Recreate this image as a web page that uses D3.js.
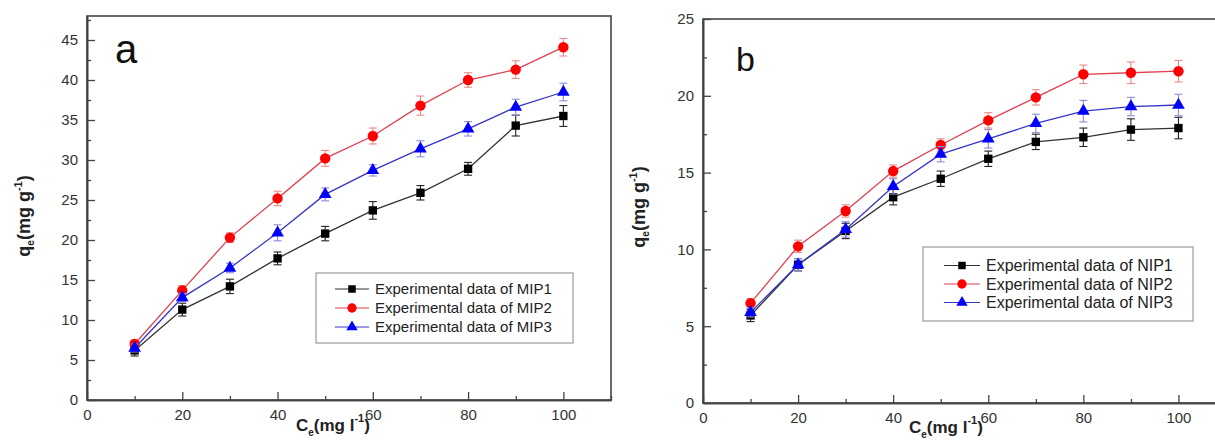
<!DOCTYPE html>
<html>
<head>
<meta charset="utf-8">
<script src="https://cdn.jsdelivr.net/npm/d3@7"></script>
<style>
  body { margin: 0; background: #fff; }
  svg { display: block; font-family: Arial, "Liberation Sans", sans-serif; }
</style>
</head>
<body>
<svg id="chart" width="1215" height="440"></svg>
<script>
const conc = [10, 20, 30, 40, 50, 60, 70, 80, 90, 100];

// panel a (MIP)
const mip1 = [6.2, 11.3, 14.2, 17.7, 20.8, 23.7, 25.9, 28.9, 34.3, 35.5];
const mip1Err = [0.7, 0.8, 0.9, 0.8, 0.9, 1.1, 0.9, 0.8, 1.3, 1.3];
const mip2 = [7.0, 13.7, 20.3, 25.2, 30.2, 33.0, 36.8, 40.0, 41.3, 44.1];
const mip2Err = [0.5, 0.6, 0.6, 0.9, 1.0, 1.0, 1.2, 0.9, 1.1, 1.1];
const mip3 = [6.5, 12.8, 16.5, 20.9, 25.7, 28.7, 31.4, 33.9, 36.6, 38.5];
const mip3Err = [0.5, 0.5, 0.6, 1.0, 0.8, 0.7, 1.0, 0.9, 1.0, 1.1];

// panel b (NIP)
const nip1 = [5.7, 9.0, 11.2, 13.4, 14.6, 15.9, 17.0, 17.3, 17.8, 17.9];
const nip1Err = [0.4, 0.4, 0.5, 0.5, 0.5, 0.5, 0.5, 0.6, 0.7, 0.7];
const nip2 = [6.5, 10.2, 12.5, 15.1, 16.8, 18.4, 19.9, 21.4, 21.5, 21.6];
const nip2Err = [0.3, 0.4, 0.4, 0.4, 0.4, 0.5, 0.5, 0.6, 0.7, 0.7];
const nip3 = [5.9, 9.0, 11.3, 14.1, 16.2, 17.2, 18.2, 19.0, 19.3, 19.4];
const nip3Err = [0.3, 0.4, 0.5, 0.5, 0.5, 0.6, 0.6, 0.7, 0.6, 0.7];

const xTicks = [0, 20, 40, 60, 80, 100];
const xMinor = [10, 30, 50, 70, 90, 110];
const yTicksA = [0, 5, 10, 15, 20, 25, 30, 35, 40, 45];
const yTicksB = [0, 5, 10, 15, 20, 25];

const svg = d3.select("#chart");

const styles = [
  { line: "#333333", fill: "#000000", err: "#222222", shape: d3.symbolSquare, size: 70 },
  { line: "#e0404f", fill: "#ff0000", err: "#e88a8a", shape: d3.symbolCircle, size: 85 },
  { line: "#3535c8", fill: "#0000ff", err: "#8a8ad8", shape: d3.symbolTriangle, size: 70 }
];

const panels = [
  {
    left: 87, top: 16, right: 611, bottom: 400, xMax: 110, yMax: 48, yMinorStep: 2.5,
    yTicks: yTicksA, letter: "a", letterX: 115, letterY: 63, letterSize: 40,
    series: [[mip1, mip1Err], [mip2, mip2Err], [mip3, mip3Err]],
    names: ["Experimental data of MIP1", "Experimental data of MIP2", "Experimental data of MIP3"],
    legend: { x: 316, y: 273, w: 257, h: 70, row: 19, font: 15, lineX: 335, lineW: 34 },
    yTitle: { x: 30, y: 216 }, xTitle: { x: 296, y: 431 }
  },
  {
    left: 703, top: 19, right: 1226, bottom: 403, xMax: 110, yMax: 25, yMinorStep: 2.5,
    yTicks: yTicksB, letter: "b", letterX: 736, letterY: 71, letterSize: 34,
    series: [[nip1, nip1Err], [nip2, nip2Err], [nip3, nip3Err]],
    names: ["Experimental data of NIP1", "Experimental data of NIP2", "Experimental data of NIP3"],
    legend: { x: 923, y: 247, w: 270, h: 74, row: 18.5, font: 16, lineX: 944, lineW: 36 },
    yTitle: { x: 645, y: 207 }, xTitle: { x: 909, y: 433 }
  }
];

panels.forEach(function(p) {
  const x = d3.scaleLinear().domain([0, p.xMax]).range([p.left, p.right]);
  const y = d3.scaleLinear().domain([0, p.yMax]).range([p.bottom, p.top]);
  const g = svg.append("g");

  // frame
  g.append("rect")
    .attr("x", p.left).attr("y", p.top)
    .attr("width", p.right - p.left).attr("height", p.bottom - p.top)
    .attr("fill", "none").attr("stroke", "#444").attr("stroke-width", 1.6);

  // axes, ticks point inward
  g.append("g").attr("transform", "translate(0," + p.bottom + ")")
    .call(d3.axisBottom(x).tickValues(xTicks).tickSizeInner(-8).tickSizeOuter(0).tickPadding(9));
  g.append("g").attr("transform", "translate(0," + p.bottom + ")")
    .call(d3.axisBottom(x).tickValues(xMinor).tickSizeInner(-4).tickSizeOuter(0).tickFormat(""));
  g.append("g").attr("transform", "translate(" + p.left + ",0)")
    .call(d3.axisLeft(y).tickValues(p.yTicks).tickSizeInner(-8).tickSizeOuter(0).tickPadding(9));
  const yMinor = d3.range(p.yMinorStep, p.yMax, p.yMinorStep * 2);
  g.append("g").attr("transform", "translate(" + p.left + ",0)")
    .call(d3.axisLeft(y).tickValues(yMinor).tickSizeInner(-4).tickSizeOuter(0).tickFormat(""));

  g.selectAll(".domain").attr("stroke", "#444").attr("stroke-width", 1.6);
  g.selectAll(".tick line").attr("stroke", "#444").attr("stroke-width", 1.3);
  g.selectAll(".tick text").attr("fill", "#333")
    .style("font-size", "15px").style("font-family", "Arial, 'Liberation Sans', sans-serif");

  // series
  p.series.forEach(function(s, i) {
    const vals = s[0], errs = s[1], st = styles[i];
    const pts = conc.map(function(c, k) { return { x: c, y: vals[k], e: errs[k] }; });

    g.append("path").datum(pts)
      .attr("fill", "none").attr("stroke", st.line).attr("stroke-width", 1.3)
      .attr("d", d3.line().x(d => x(d.x)).y(d => y(d.y)));

    const eb = g.append("g").attr("stroke", st.err).attr("stroke-width", 1.1);
    eb.selectAll("line.v").data(pts).join("line").attr("class", "v")
      .attr("x1", d => x(d.x)).attr("x2", d => x(d.x))
      .attr("y1", d => y(d.y - d.e)).attr("y2", d => y(d.y + d.e));
    eb.selectAll("line.t").data(pts).join("line").attr("class", "t")
      .attr("x1", d => x(d.x) - 4).attr("x2", d => x(d.x) + 4)
      .attr("y1", d => y(d.y + d.e)).attr("y2", d => y(d.y + d.e));
    eb.selectAll("line.b").data(pts).join("line").attr("class", "b")
      .attr("x1", d => x(d.x) - 4).attr("x2", d => x(d.x) + 4)
      .attr("y1", d => y(d.y - d.e)).attr("y2", d => y(d.y - d.e));

    g.selectAll(null).data(pts).join("path")
      .attr("transform", d => "translate(" + x(d.x) + "," + y(d.y) + ")")
      .attr("d", d3.symbol().type(st.shape).size(st.size))
      .attr("fill", st.fill);
  });

  // panel letter
  g.append("text").attr("x", p.letterX).attr("y", p.letterY)
    .style("font-size", p.letterSize + "px").attr("fill", "#111").text(p.letter);

  // legend
  const L = p.legend;
  const lg = g.append("g");
  lg.append("rect").attr("x", L.x).attr("y", L.y).attr("width", L.w).attr("height", L.h)
    .attr("fill", "#fff").attr("stroke", "#888").attr("stroke-width", 1);
  p.names.forEach(function(name, i) {
    const st = styles[i];
    const ry = L.y + L.h / 2 + (i - 1) * L.row;
    lg.append("line").attr("x1", L.lineX).attr("x2", L.lineX + L.lineW)
      .attr("y1", ry).attr("y2", ry).attr("stroke", st.line).attr("stroke-width", 1.2);
    lg.append("path").attr("transform", "translate(" + (L.lineX + L.lineW / 2) + "," + ry + ")")
      .attr("d", d3.symbol().type(st.shape).size(st.size * 0.8)).attr("fill", st.fill);
    lg.append("text").attr("x", L.lineX + L.lineW + 6).attr("y", ry).attr("dy", "0.35em")
      .style("font-size", L.font + "px").attr("fill", "#222").text(name);
  });

  // y title
  const yt = g.append("text")
    .attr("transform", "translate(" + p.yTitle.x + "," + p.yTitle.y + ") rotate(-90)")
    .attr("text-anchor", "middle").style("font-size", "18px").style("font-weight", "bold").attr("fill", "#222");
  yt.append("tspan").text("q");
  yt.append("tspan").attr("dy", 4).style("font-size", "10px").text("e");
  yt.append("tspan").attr("dy", -4).text("(mg g");
  yt.append("tspan").attr("dy", -8).style("font-size", "11px").text("-1");
  yt.append("tspan").attr("dy", 8).text(")");

  // x title
  const xt = g.append("text").attr("x", p.xTitle.x).attr("y", p.xTitle.y)
    .style("font-size", "17px").style("font-weight", "bold").attr("fill", "#222");
  xt.append("tspan").text("C");
  xt.append("tspan").attr("dy", 5).style("font-size", "10px").text("e");
  xt.append("tspan").attr("dy", -5).text("(mg l");
  xt.append("tspan").attr("dy", -9).style("font-size", "11px").text("-1");
  xt.append("tspan").attr("dy", 9).text(")");
});
</script>
</body>
</html>
